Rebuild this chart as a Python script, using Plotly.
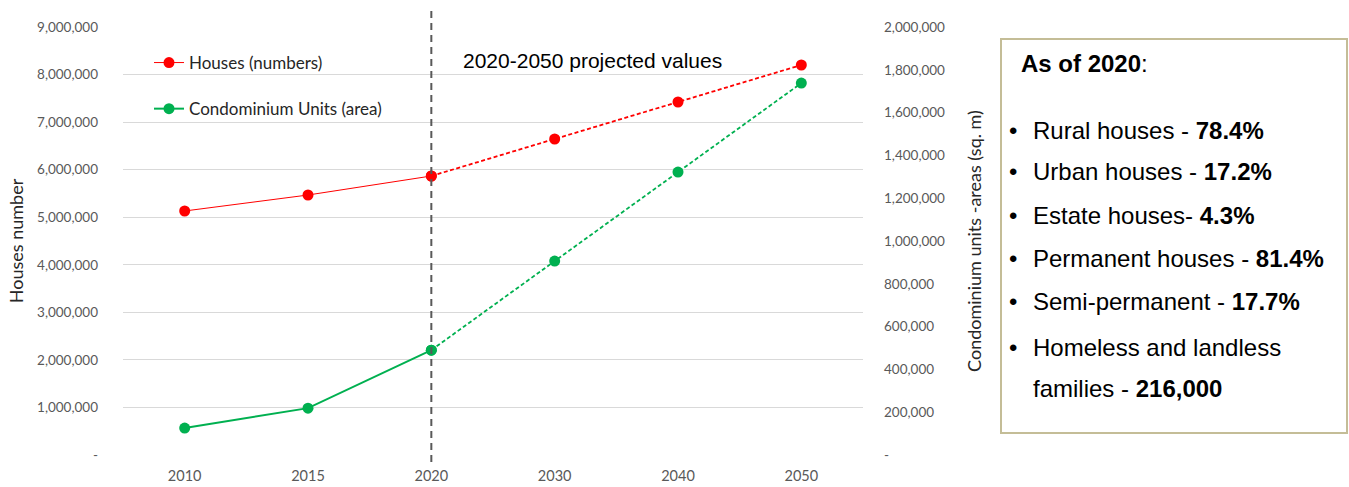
import plotly.graph_objects as go

# ---- data ----
years = ["2010", "2015", "2020", "2030", "2040", "2050"]
houses = [5131000, 5467000, 5867000, 6645000, 7423000, 8201000]          # number of houses
condo_area = [126000, 219000, 490000, 906000, 1322000, 1738000]          # condominium units, sq. m
left_ticks = [0, 1000000, 2000000, 3000000, 4000000, 5000000, 6000000, 7000000, 8000000, 9000000]
right_ticks = [0, 200000, 400000, 600000, 800000, 1000000, 1200000, 1400000, 1600000, 1800000, 2000000]
split_year = "2020"   # observed up to here, projected after

facts_title = "As of 2020"
facts = [
    ("Rural houses - ", "78.4%"),
    ("Urban houses - ", "17.2%"),
    ("Estate houses- ", "4.3%"),
    ("Permanent houses - ", "81.4%"),
    ("Semi-permanent - ", "17.7%"),
]
facts_last = ("Homeless and landless", "families - ", "216,000")

# ---- style ----
RED = "#FF0000"
GREEN = "#00B050"
GRID = "#D9D9D9"
TICK = "#595959"
W, H = 1349, 487
L, R, T, B = 123, 486, 27, 32
PW, PH = W - L - R, H - T - B


def px(x):
    return (x - L) / PW


def py(y):
    return (H - B - y) / PH


def fmt(v):
    return "-" if v == 0 else f"{v:,}"


k = years.index(split_year)

fig = go.Figure()

# observed (solid) segments - these carry the legend entries
fig.add_trace(go.Scatter(
    x=years[:k + 1], y=houses[:k + 1], name="Houses (numbers)",
    mode="lines+markers", line=dict(color=RED, width=1),
    marker=dict(color=RED, size=11), legendgroup="h", yaxis="y"))
fig.add_trace(go.Scatter(
    x=years[:k + 1], y=condo_area[:k + 1], name="Condominium Units (area)",
    mode="lines+markers", line=dict(color=GREEN, width=2),
    marker=dict(color=GREEN, size=11), legendgroup="c", yaxis="y2"))

# projected (dashed) segments
fig.add_trace(go.Scatter(
    x=years[k:], y=houses[k:], mode="lines+markers", showlegend=False,
    line=dict(color=RED, width=1.8, dash="4px,2.5px"),
    marker=dict(color=RED, size=11), legendgroup="h", yaxis="y"))
fig.add_trace(go.Scatter(
    x=years[k:], y=condo_area[k:], mode="lines+markers", showlegend=False,
    line=dict(color=GREEN, width=1.8, dash="4px,2.5px"),
    marker=dict(color=GREEN, size=11), legendgroup="c", yaxis="y2"))

tick_font = dict(family="Lato", size=13.5, color=TICK)
title_font = dict(family="Lato", size=18, color="#262626")

fig.update_layout(
    width=W, height=H,
    margin=dict(l=L, r=R, t=T, b=B, pad=0, autoexpand=False),
    paper_bgcolor="white", plot_bgcolor="white",
    showlegend=True,
    legend=dict(
        x=px(149), y=py(45), xanchor="left", yanchor="top",
        font=dict(family="Lato", size=17, color="#262626"),
        bgcolor="rgba(0,0,0,0)", traceorder="grouped", tracegroupgap=21,
        itemwidth=30,
    ),
    xaxis=dict(
        type="category", range=[-0.5, len(years) - 0.5], automargin=False,
        showgrid=False, zeroline=False, showline=False, ticks="",
        tickfont=dict(family="Lato", size=14.5, color=TICK), ticklabelstandoff=10,
    ),
    yaxis=dict(
        range=[0, 9000000], tickvals=left_ticks, ticktext=[fmt(v) for v in left_ticks],
        automargin=False,
        showgrid=True, gridcolor=GRID, gridwidth=1, zeroline=False, showline=False,
        ticks="", tickfont=tick_font, ticklabelstandoff=24,
        title=dict(text="Houses number", font=title_font, standoff=8),
    ),
    yaxis2=dict(
        overlaying="y", side="right", automargin=False,
        range=[0, 2000000], tickvals=right_ticks, ticktext=[fmt(v) for v in right_ticks],
        showgrid=False, zeroline=False, showline=False,
        ticks="", tickfont=tick_font, ticklabelstandoff=20,
        title=dict(text="Condominium units -areas (sq. m)", font=title_font, standoff=24),
    ),
)

# divider between observed and projected values
fig.add_shape(type="line", xref="x", yref="paper", x0=k, x1=k, y0=py(462), y1=py(8),
              line=dict(color="#595959", width=2, dash="7px,5px"), layer="above")

fig.add_annotation(xref="paper", yref="paper", x=px(461), y=py(60), xanchor="left",
                   yanchor="middle", showarrow=False, text="2020-2050 projected values",
                   font=dict(family="Liberation Sans", size=21, color="#000000"))

# summary box
fig.add_shape(type="rect", xref="paper", yref="paper",
              x0=px(1001), x1=px(1347), y0=py(433), y1=py(39),
              line=dict(color="#C4BD97", width=2), fillcolor="white", layer="below")

box_font = dict(family="Liberation Sans", size=24, color="#000000")
fig.add_annotation(xref="paper", yref="paper", x=px(1019), y=py(63), xanchor="left",
                   yanchor="middle", showarrow=False,
                   text=f"<b>{facts_title}</b>:", font=dict(family="Liberation Sans", size=24, color="#000000"))

rows_y = [130, 172, 215, 258, 301, 347]
for (label, val), yy in zip(facts, rows_y):
    fig.add_annotation(xref="paper", yref="paper", x=px(1007), y=py(yy), xanchor="left",
                       yanchor="middle", showarrow=False, text="•", font=box_font)
    fig.add_annotation(xref="paper", yref="paper", x=px(1031), y=py(yy), xanchor="left",
                       yanchor="middle", showarrow=False, text=f"{label}<b>{val}</b>",
                       font=box_font)

fig.add_annotation(xref="paper", yref="paper", x=px(1007), y=py(347), xanchor="left",
                   yanchor="middle", showarrow=False, text="•", font=box_font)
fig.add_annotation(xref="paper", yref="paper", x=px(1031), y=py(347), xanchor="left",
                   yanchor="middle", showarrow=False, text=facts_last[0], font=box_font)
fig.add_annotation(xref="paper", yref="paper", x=px(1031), y=py(388), xanchor="left",
                   yanchor="middle", showarrow=False,
                   text=f"{facts_last[1]}<b>{facts_last[2]}</b>", font=box_font)

fig.write_html("out.html")
